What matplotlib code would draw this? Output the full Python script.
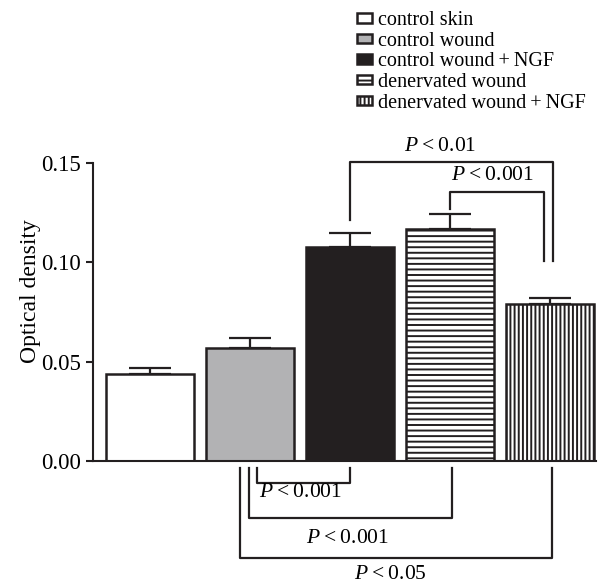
import matplotlib.pyplot as plt

plt.rcParams['font.family'] = ['Liberation Serif', 'DejaVu Serif']
plt.rcParams['mathtext.fontset'] = 'custom'
plt.rcParams['mathtext.it'] = 'Liberation Serif:italic'
plt.rcParams['mathtext.rm'] = 'Liberation Serif'
plt.rcParams['hatch.linewidth'] = 1.4

# data
groups = ['control skin', 'control wound', 'control wound\u2009+\u2009NGF',
          'denervated wound', 'denervated wound\u2009+\u2009NGF']
density = [0.044, 0.057, 0.108, 0.117, 0.079]
sem = [0.0028, 0.0048, 0.0068, 0.0075, 0.0032]
colors = ['white', '#b2b2b4', '#231f20', 'white', 'white']
hatches = [None, None, None, '---', '||||']

fig = plt.figure(figsize=(5.98, 5.85), dpi=100)
ax = fig.add_axes([0.1555, 0.212, 0.841, 0.509])

x = list(range(len(groups)))
bars = ax.bar(x, density, width=0.88, color=colors, edgecolor='#231f20',
              linewidth=1.8, label=groups, zorder=2)
for b, h in zip(bars, hatches):
    if h:
        b.set_hatch(h)
ax.errorbar(x, density, yerr=[[0] * len(sem), sem], fmt='none',
            ecolor='#231f20', elinewidth=1.6, capsize=15, capthick=1.6, zorder=1)

ax.set_xlim(-0.575, 4.455)
ax.set_ylim(0, 0.15)
ax.set_yticks([0, 0.05, 0.10, 0.15])
ax.set_yticklabels(['0.00', '0.05', '0.10', '0.15'])
ax.set_xticks([])
ax.tick_params(axis='y', labelsize=16.5, length=5, width=1.5, color='#231f20')
ax.set_ylabel('Optical density', fontsize=17, va='center')
ax.yaxis.set_label_coords(-0.125, 0.57)
for s in ['top', 'right']:
    ax.spines[s].set_visible(False)
for s in ['left', 'bottom']:
    ax.spines[s].set_linewidth(1.5)
    ax.spines[s].set_color('#231f20')

kw = dict(color='#231f20', lw=1.6, clip_on=False)
fs = 15.5
# P<0.01: bar3 -> bar5
ax.plot([2, 2, 4.03, 4.03], [0.1213, 0.1505, 0.1505, 0.1005], **kw)
ax.text(2.9, 0.1585, '$P$\u2009<\u20090.01', ha='center', va='center', fontsize=fs)
# P<0.001: bar4 -> bar5
ax.plot([3, 3, 3.94, 3.94], [0.1268, 0.1354, 0.1354, 0.1005], **kw)
ax.text(3.42, 0.144, '$P$\u2009<\u20090.001', ha='center', va='center', fontsize=fs)

ax.plot([1.07, 1.07, 2, 2], [-0.0035, -0.0111, -0.0111, -0.0035], **kw)
ax.text(1.5, -0.016, '$P$\u2009<\u20090.001', ha='center', va='center', fontsize=fs)
ax.plot([0.99, 0.99, 3.02, 3.02], [-0.0035, -0.0287, -0.0287, -0.0035], **kw)
ax.text(1.97, -0.0388, '$P$\u2009<\u20090.001', ha='center', va='center', fontsize=fs)
ax.plot([0.9, 0.9, 4.02, 4.02], [-0.0035, -0.0488, -0.0488, -0.0035], **kw)
ax.text(2.4, -0.0574, '$P$\u2009<\u20090.05', ha='center', va='center', fontsize=fs)

fig.legend(handles=bars, labels=groups, loc='upper left',
           bbox_to_anchor=(347 / 598, 1 - 1 / 585), frameon=False,
           fontsize=14.5, handlelength=0.75, handleheight=0.35,
           handletextpad=0.3, labelspacing=0.08, borderpad=0)

fig.savefig('out.png', dpi=100)
